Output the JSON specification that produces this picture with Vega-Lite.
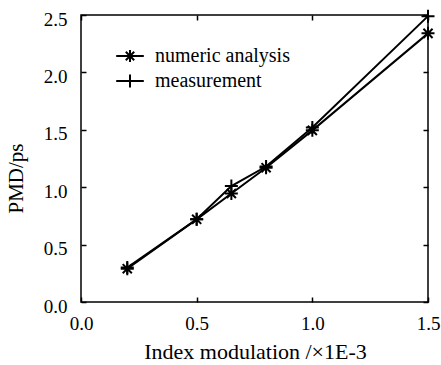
{
  "$schema": "https://vega.github.io/schema/vega-lite/v6.json",
  "width": 347,
  "height": 287,
  "autosize": "none",
  "padding": {"left": 81, "top": 15, "right": 13, "bottom": 63},
  "background": "white",
  "config": {
    "view": {"stroke": "black", "strokeWidth": 1.5},
    "font": "Liberation Serif",
    "axis": {"grid": false, "domain": false, "tickColor": "black", "tickWidth": 1.5, "tickSize": -5, "labelFlush": false,
      "labelFont": "Liberation Serif", "labelFontSize": 19, "labelColor": "black",
      "titleFont": "Liberation Serif", "titleFontSize": 21, "titleFontWeight": "normal", "titleColor": "black"},
    "legend": {"labelFont": "Liberation Serif"}
  },
  "data": {"values": [
    {"series": "numeric analysis", "x": 0.2, "y": 0.29},
    {"series": "numeric analysis", "x": 0.5, "y": 0.72},
    {"series": "numeric analysis", "x": 0.65, "y": 0.945},
    {"series": "numeric analysis", "x": 0.8, "y": 1.17},
    {"series": "numeric analysis", "x": 1.0, "y": 1.495},
    {"series": "numeric analysis", "x": 1.5, "y": 2.34},
    {"series": "measurement", "x": 0.2, "y": 0.3},
    {"series": "measurement", "x": 0.5, "y": 0.72},
    {"series": "measurement", "x": 0.65, "y": 1.01},
    {"series": "measurement", "x": 0.8, "y": 1.18},
    {"series": "measurement", "x": 1.0, "y": 1.52},
    {"series": "measurement", "x": 1.5, "y": 2.49}
  ]},
  "resolve": {"axis": {"x": "independent", "y": "independent"}, "scale": {"shape": "independent"}},
  "layer": [
    {
      "mark": {"type": "line", "color": "black", "strokeWidth": 2},
      "encoding": {
        "x": {"field": "x", "type": "quantitative", "scale": {"domain": [0, 1.5], "nice": false},
          "axis": {"values": [0, 0.5, 1, 1.5], "format": ".1f", "title": "Index modulation /×1E-3", "labelFont": "Liberation Serif", "labelPadding": 17, "titleFontSize": 22, "titleBaseline": "alphabetic", "titleY": 56, "titleX": 174}},
        "y": {"field": "y", "type": "quantitative", "scale": {"domain": [0, 2.5], "nice": false},
          "axis": {"values": [0, 0.5, 1, 1.5, 2, 2.5], "format": ".1f", "title": "PMD/ps", "labelFont": "Liberation Serif", "labelPadding": 19, "labelOffset": 4, "titleX": -55, "titleY": 163}},
        "detail": {"field": "series"}
      }
    },
    {
      "mark": {"type": "point", "filled": false, "stroke": "black", "strokeWidth": 2, "opacity": 1, "size": 169},
      "encoding": {
        "x": {"field": "x", "type": "quantitative", "axis": {"orient": "top", "values": [0, 0.5, 1, 1.5], "labels": false, "title": null}},
        "y": {"field": "y", "type": "quantitative", "axis": {"orient": "right", "values": [0, 0.5, 1, 1.5, 2, 2.5], "labels": false, "title": null}},
        "shape": {"field": "series", "type": "nominal",
          "scale": {"domain": ["numeric analysis", "measurement"], "range": ["M-1,0L1,0M0,-1L0,1M-0.7,-0.7L0.7,0.7M-0.7,0.7L0.7,-0.7", "M-1,0L1,0M0,-1L0,1"]},
          "legend": null}
      }
    },
    {
      "mark": {"type": "point", "filled": false, "stroke": "black", "strokeWidth": 2, "opacity": 0, "size": 144},
      "encoding": {
        "x": {"field": "x", "type": "quantitative", "axis": null},
        "y": {"field": "y", "type": "quantitative", "axis": null},
        "shape": {"field": "series", "type": "nominal",
          "scale": {"domain": ["numeric analysis", "measurement"], "range": ["M-2.3,0L2.3,0M0,-1L0,1M-0.7,-0.7L0.7,0.7M-0.7,0.7L0.7,-0.7", "M-2.3,0L2.3,0M0,-1.1L0,1.1"]},
          "legend": {"title": null, "orient": "none", "legendX": 39, "legendY": 31, "padding": 0, "labelFont": "Liberation Serif", "labelFontSize": 20, "labelColor": "black", "labelOffset": 15, "rowPadding": 4, "symbolSize": 144, "symbolStrokeWidth": 2, "symbolStrokeColor": "black", "symbolOpacity": 1}}
      }
    }
  ]
}
